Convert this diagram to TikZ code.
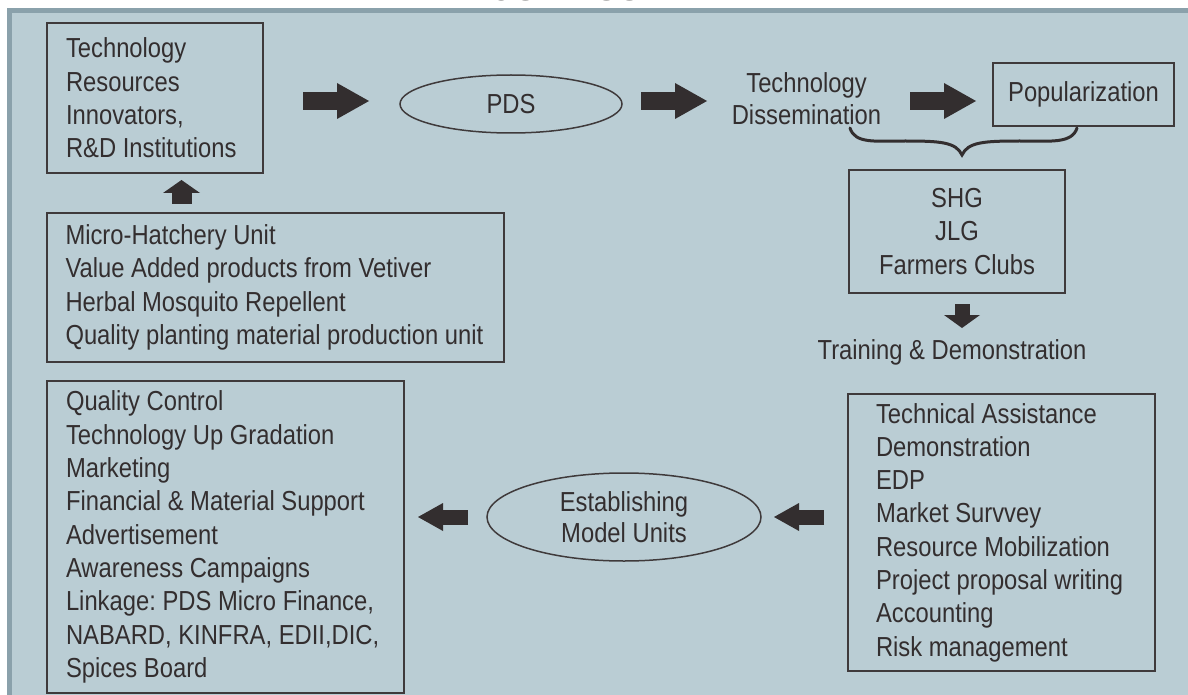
\documentclass[tikz,border=0pt]{standalone}
\usepackage{fontspec}
\setmainfont{Liberation Sans}[FakeStretch=0.865]
\newfontfamily\titlefont{Liberation Sans}
\usetikzlibrary{arrows.meta,shapes.geometric,calc}
\definecolor{panel}{HTML}{BACDD4}
\definecolor{panelrim}{HTML}{8AA1AB}
\definecolor{ink}{HTML}{332E2F}
\definecolor{rulecol}{HTML}{3F3A3B}
\newcommand\mytextfont[1]{\fontsize{27.5}{#1}\selectfont}
\begin{document}
\frenchspacing
\begin{tikzpicture}[x=1pt,y=-1pt,
  txt/.style={text=ink,font=\mytextfont{33.3},
    execute at begin node={\spaceskip=6.6pt\relax\xspaceskip=6.6pt\relax}},
  listbox/.style={txt,draw=rulecol,line width=1.5pt,align=left,inner sep=0pt},
  centerbox/.style={txt,draw=rulecol,line width=1.5pt,align=center,inner sep=0pt},
  oval/.style={txt,ellipse,draw=rulecol,line width=1.5pt,inner sep=0pt,align=center},
  bigarrow/.style={draw=ink,line width=18pt,-{Triangle[length=32pt,width=36pt,line width=0pt]}},
  smallarrow/.style={draw=ink,line width=15pt,-{Triangle[length=25pt,width=28pt,line width=0pt]}},
  uparrowstyle/.style={draw=ink,line width=20pt,-{Triangle[length=13pt,width=37pt,line width=0pt]}},
  downarrowstyle/.style={draw=ink,line width=15pt,-{Triangle[length=13pt,width=36pt,line width=0pt]}},
  bracestyle/.style={draw=ink,line width=3pt,line cap=round}
]
\useasboundingbox (0,0) rectangle (1188,695);
\clip (0,0) rectangle (1188,695);
% panel
\fill[panelrim] (7,8) rectangle (1188,695);
\fill[panel] (12,13) rectangle (1188,695);
% title (cut off at top, as in the reference)
\node[font=\titlefont\fontsize{34.7}{40}\selectfont,text=black!85,anchor=base,inner sep=0pt] (title) at (603.5,0.3) {BUSINESS PLAN};

% nodes
\node[listbox,minimum width=216pt,minimum height=150pt,text width=178pt] (res) at (155,98)
  {Technology\\Resources\\Innovators,\\R\&D Institutions};
\node[oval,minimum width=222pt,minimum height=58pt] (pds) at (511,104) {PDS};
\node[txt,align=center,font=\mytextfont{32}] (diss) at (806.5,99) {Technology\\Dissemination};
\node[centerbox,minimum width=181pt,minimum height=63pt] (pop) at (1083.5,94.5) {Popularization};
\node[centerbox,minimum width=216pt,minimum height=123pt,text width=196pt] (shg) at (957,231.5)
  {SHG\\JLG\\Farmers Clubs};
\node[txt] (train) at (952,352) {Training \& Demonstration};
\node[listbox,minimum width=307pt,minimum height=277pt,text width=251pt] (assist) at (1001.5,532.5)
  {Technical Assistance\\Demonstration\\EDP\\Market Survvey\\Resource Mobilization\\Project proposal writing\\Accounting\\Risk management};
\node[oval,minimum width=274pt,minimum height=88pt,font=\mytextfont{31}] (est) at (624,517)
  {Establishing\\Model Units};
\node[listbox,minimum width=357pt,minimum height=312pt,text width=319pt] (support) at (225.5,537)
  {Quality Control\\Technology Up Gradation\\Marketing\\Financial \& Material Support\\Advertisement\\Awareness Campaigns\\Linkage: PDS Micro Finance,\\NABARD, KINFRA, EDII,DIC,\\Spices Board};
\node[listbox,minimum width=457pt,minimum height=149pt,text width=420pt] (units) at (275.5,287.5)
  {Micro-Hatchery Unit\\Value Added products from Vetiver\\Herbal Mosquito Repellent\\Quality planting material production unit};

% arrow end points (free ends between the named nodes)
\coordinate (a1s) at (303,101);
\coordinate (a1e) at (369,101);
\coordinate (a2s) at (641,101);
\coordinate (a2e) at (707,101);
\coordinate (a3s) at (910,101);
\coordinate (a3e) at (976,101);
\coordinate (ups) at (181.5,204);
\coordinate (upe) at (181.5,180);
\coordinate (dns) at (962,304);
\coordinate (dne) at (962,328);
\coordinate (b1s) at (824,517);
\coordinate (b1e) at (774,517);
\coordinate (b2s) at (468,517);
\coordinate (b2e) at (418,517);

\draw[bigarrow] (a1s) -- (a1e);
\draw[bigarrow] (a2s) -- (a2e);
\draw[bigarrow] (a3s) -- (a3e);
\draw[uparrowstyle] (ups) -- (upe);
\draw[downarrowstyle] (dns) -- (dne);
\draw[smallarrow] (b1s) -- (b1e);
\draw[smallarrow] (b2s) -- (b2e);

% brace
\coordinate (brL) at (850,128);
\coordinate (brM) at (962,155);
\coordinate (brR) at (1077,128);
\draw[bracestyle] (brL) .. controls (855,144) and (875,141) .. (905,141)
  .. controls (940,141) and (956,142) .. (brM)
  .. controls (968,142) and (984,141) .. (1020,141)
  .. controls (1050,141) and (1072,144) .. (brR);
\end{tikzpicture}
\end{document}
